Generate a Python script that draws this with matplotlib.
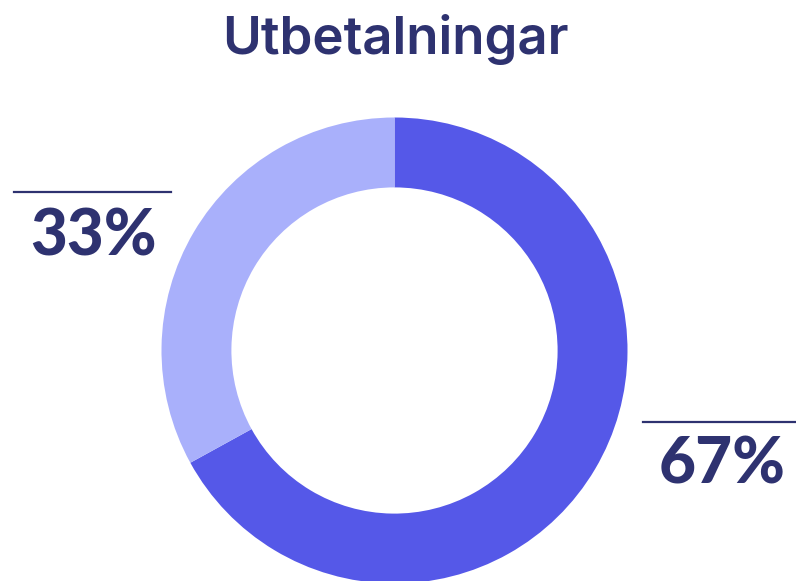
import matplotlib.pyplot as plt
from matplotlib.lines import Line2D

labels = ['67%', '33%']
values = [67, 33]
colors = ['#5558E8', '#A9B0FB']
text_color = '#2E3270'

W, H = 796, 581
fig = plt.figure(figsize=(W / 100, H / 100), dpi=100)

def fx(px):
    return px / W

def fy(py):
    return 1 - py / H

# donut: centre ~ (394.5, 350.5) px, radius ~233 px
cx, cy, r = 394.5, 350.5, 233
ax = fig.add_axes([fx(cx - r), fy(cy + r), 2 * r / W, 2 * r / H])
ax.pie(values, colors=colors, startangle=90, counterclock=False,
       radius=1, wedgeprops=dict(width=0.30, linewidth=0))
ax.set_xlim(-1, 1)
ax.set_ylim(-1, 1)
ax.set_aspect('equal')
ax.axis('off')

fig.text(fx(395), fy(54), 'Utbetalningar', ha='center', va='baseline',
         fontsize=38, fontweight='semibold', color=text_color, family='Inter')

# value labels with rule above
label_pos = {'67%': (643, 796, 422, 722, 484), '33%': (14, 171, 192, 94, 255)}
for lab in labels:
    x0, x1, ly, tx, ty = label_pos[lab]
    fig.add_artist(Line2D([fx(x0), fx(x1)], [fy(ly), fy(ly)],
                          color=text_color, lw=1.6, transform=fig.transFigure))
    fig.text(fx(tx), fy(ty), lab, ha='center', va='baseline',
             fontsize=46, fontweight='black', color=text_color, family='Lato')

fig.savefig('out.png', dpi=100)
